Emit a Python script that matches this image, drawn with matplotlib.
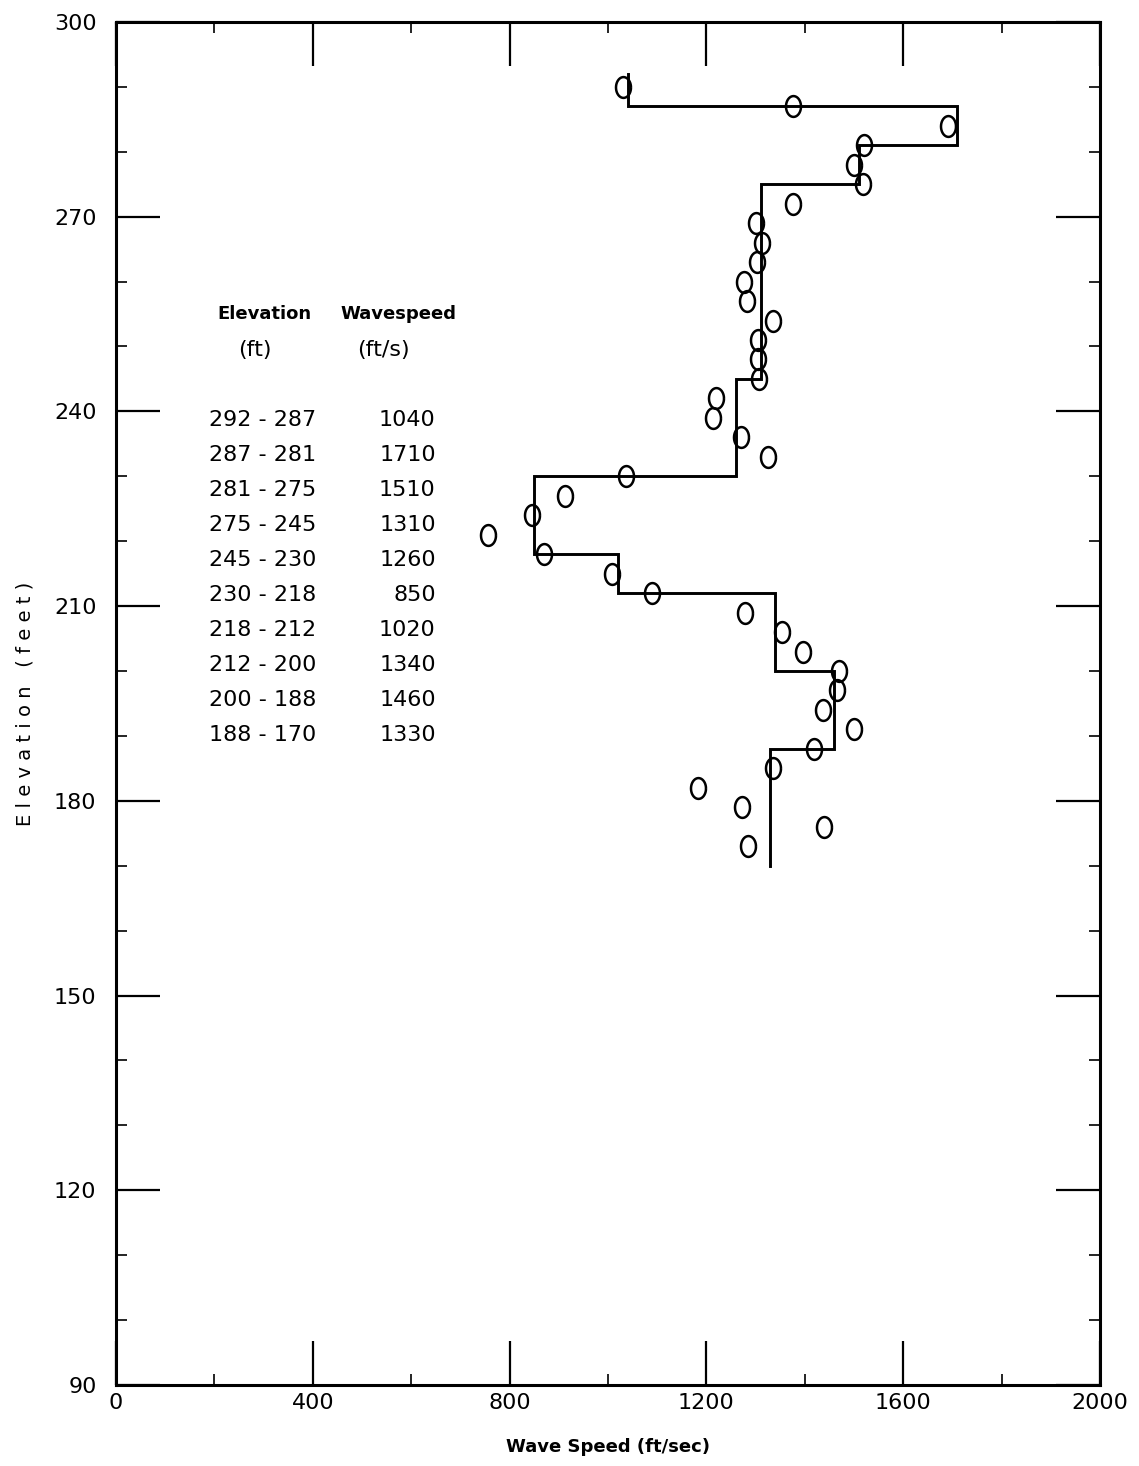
import matplotlib
matplotlib.use("Agg")
import matplotlib.pyplot as plt
import numpy as np

# layer table (elevation ranges in ft, wavespeed in ft/s)
layer_top = [292, 287, 281, 275, 245, 230, 218, 212, 200, 188]
layer_bottom = [287, 281, 275, 245, 230, 218, 212, 200, 188, 170]
layer_speed = [1040, 1710, 1510, 1310, 1260, 850, 1020, 1340, 1460, 1330]

# measured points
pt_elev = [290, 287, 284, 281, 278, 275, 272, 269, 266, 263,
           260, 257, 254, 251, 248, 245, 242, 239, 236, 233,
           230, 227, 224, 221, 218, 215, 212, 209, 206, 203,
           200, 197, 194, 191, 188, 185, 182, 179, 176, 173]
pt_speed = [1030, 1375, 1690, 1520, 1500, 1518, 1375, 1300, 1312, 1303,
            1276, 1282, 1335, 1305, 1305, 1307, 1220, 1213, 1270, 1325,
            1037, 913, 845, 757, 870, 1008, 1090, 1278, 1353, 1396,
            1470, 1465, 1437, 1500, 1418, 1335, 1182, 1272, 1440, 1284]

plt.rcParams['font.family'] = ['DejaVu Sans']

fig = plt.figure(figsize=(11.39, 14.66), dpi=100)
ax = fig.add_axes([0.1018, 0.0553, 0.864, 0.9297])

# step profile from the layer table
xs, ys = [], []
for t, b, v in zip(layer_top, layer_bottom, layer_speed):
    xs += [v, v]
    ys += [t, b]
ax.plot(xs, ys, color="black", lw=2.1, solid_joinstyle="miter")

# slightly tall open circles
th = np.linspace(0, 2 * np.pi, 41)
ell = list(zip(0.72 * np.cos(th), np.sin(th)))
ax.plot(pt_speed, pt_elev, linestyle="none", marker=ell, markersize=15,
        markerfacecolor="none", markeredgecolor="black", markeredgewidth=1.8)

ax.set_xlim(0, 2000)
ax.set_ylim(90, 300)
ax.set_xticks(np.arange(0, 2001, 400))
ax.set_xticks(np.arange(0, 2001, 200), minor=True)
ax.set_yticks(np.arange(90, 301, 30))
ax.set_yticks(np.arange(90, 301, 10), minor=True)
ax.tick_params(which="both", direction="in", top=True, right=True, color="black")
ax.tick_params(which="major", length=32, width=1.6, labelsize=16)
ax.tick_params(axis="x", which="major", pad=6)
ax.tick_params(axis="y", which="major", pad=14)
ax.tick_params(which="minor", length=8, width=1.2)
for s in ax.spines.values():
    s.set_linewidth(2.2)

ax.set_xlabel("Wave Speed (ft/sec)", fontsize=13, fontweight="bold", labelpad=18)
ax.set_ylabel("E l e v a t i o n   ( f e e t )", fontsize=14, labelpad=14)

# inset table
tkw = dict(transform=ax.transAxes, va="center", fontsize=16)
ax.text(0.151, 0.786, "Elevation", ha="center", va="center", fontsize=13,
        fontweight="bold", transform=ax.transAxes)
ax.text(0.141, 0.759, "(ft)", ha="center", **tkw)
ax.text(0.287, 0.786, "Wavespeed", ha="center", va="center", fontsize=13,
        fontweight="bold", transform=ax.transAxes)
ax.text(0.272, 0.759, "(ft/s)", ha="center", **tkw)
for i, (t, b, v) in enumerate(zip(layer_top, layer_bottom, layer_speed)):
    yy = (965 - 35 * i) / 1363
    ax.text(0.149, yy, f"{t} - {b}", ha="center", **tkw)
    ax.text(0.325, yy, f"{v}", ha="right", **tkw)

fig.savefig("out.png", dpi=100)
